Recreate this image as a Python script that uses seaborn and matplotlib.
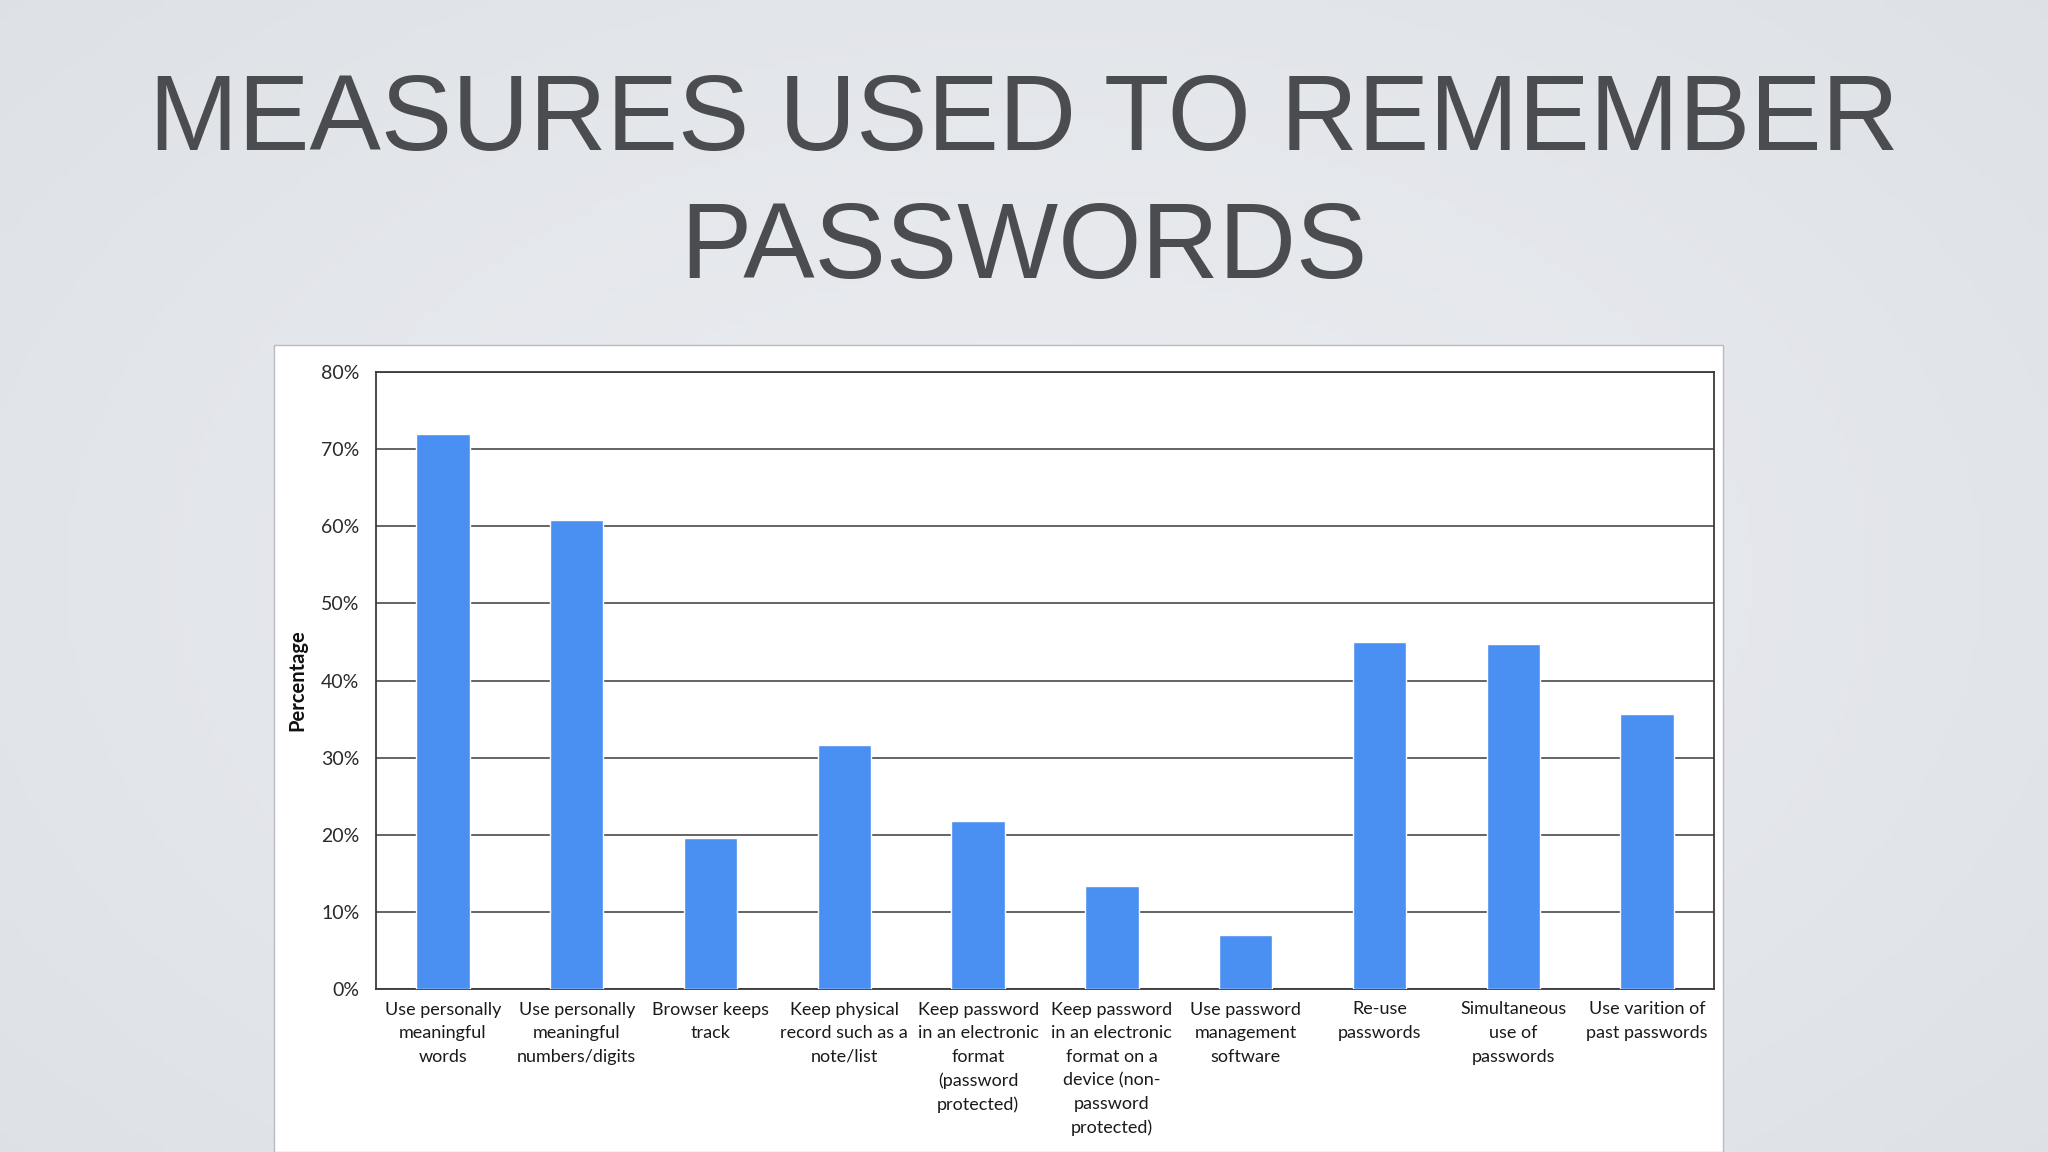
import numpy as np
import pandas as pd
import matplotlib
matplotlib.use("Agg")
import matplotlib.pyplot as plt
from matplotlib.patches import Rectangle
from matplotlib.ticker import FuncFormatter
import seaborn as sns

# ---- data ----
categories = [
    "Use personally\nmeaningful\nwords",
    "Use personally\nmeaningful\nnumbers/digits",
    "Browser keeps\ntrack",
    "Keep physical\nrecord such as a\nnote/list",
    "Keep password\nin an electronic\nformat\n(password\nprotected)",
    "Keep password\nin an electronic\nformat on a\ndevice (non-\npassword\nprotected)",
    "Use password\nmanagement\nsoftware",
    "Re-use\npasswords",
    "Simultaneous\nuse of\npasswords",
    "Use varition of\npast passwords",
]
values = [71.9, 60.8, 19.6, 31.7, 21.8, 13.4, 7.0, 45.0, 44.7, 35.6]
y_ticks = [0, 10, 20, 30, 40, 50, 60, 70, 80]
title_lines = ["MEASURES USED TO REMEMBER", "PASSWORDS"]
y_label = "Percentage"

df = pd.DataFrame({"category": categories, "value": values})

sns.set_theme(style="white")
plt.rcParams["font.family"] = ["Liberation Sans", "DejaVu Sans"]

W, H = 2048, 1152
fig = plt.figure(figsize=(W / 100, H / 100), dpi=100)

# background gradient
bg = fig.add_axes([0, 0, 1, 1], zorder=-10)
xx, yy = np.meshgrid(np.linspace(-1, 1, 300), np.linspace(-1, 1, 170))
r = np.sqrt((xx * 0.9) ** 2 + (yy * 0.8) ** 2)
c_center = np.array([0.925, 0.93, 0.945])
c_edge = np.array([0.87, 0.885, 0.905])
t = np.clip(r / 1.2, 0, 1)[..., None]
img = c_center * (1 - t) + c_edge * t
bg.imshow(img, aspect="auto", extent=[0, 1, 0, 1], origin="lower")
bg.set_axis_off()

# white chart panel
px0, py_top, px1 = 274, 345, 1723
fig.patches.append(Rectangle((px0 / W, 0), (px1 - px0) / W, 1 - py_top / H,
                             transform=fig.transFigure, facecolor="white",
                             edgecolor="#b8bcc2", linewidth=1.0, zorder=0))

# title
title_color = "#4b4c4f"
fig.text(0.5, 1 - 150 / H, title_lines[0], ha="center", va="baseline",
         fontsize=77, color=title_color, family=["Liberation Sans", "DejaVu Sans"])
fig.text(0.5, 1 - 278 / H, title_lines[1], ha="center", va="baseline",
         fontsize=77, color=title_color, family=["Liberation Sans", "DejaVu Sans"])

# chart axes
ax_l, ax_r, ax_t, ax_b = 376, 1714, 372, 989
ax = fig.add_axes([ax_l / W, 1 - ax_b / H, (ax_r - ax_l) / W, (ax_b - ax_t) / H], zorder=2)
ax.set_facecolor("white")

sns.barplot(data=df, x="category", y="value", color="#4a8ff2", width=0.4,
            saturation=1, ax=ax, zorder=3)

ax.set_ylim(0, 80)
ax.set_xlim(-0.5, len(categories) - 0.5)
ax.set_yticks(y_ticks)
ax.yaxis.set_major_formatter(FuncFormatter(lambda v, p: f"{int(v)}%"))
ax.grid(axis="y", color="#3a3a3a", linewidth=1.1, zorder=0)
ax.set_axisbelow(True)
for s in ax.spines.values():
    s.set_visible(True)
    s.set_color("#3a3a3a")
    s.set_linewidth(1.3)

lato = ["Lato", "DejaVu Sans"]
ax.tick_params(axis="both", length=0)
ax.tick_params(axis="y", pad=12, labelsize=14, labelcolor="#2a2a2a")
ax.tick_params(axis="x", pad=9, labelsize=13, labelcolor="#1a1a1a")
for lab in ax.get_xticklabels():
    lab.set_family(lato)
    lab.set_linespacing(1.58)
for lab in ax.get_yticklabels():
    lab.set_family(lato)

ax.set_xlabel("")
ax.set_ylabel(y_label, fontsize=14.5, fontweight="bold", color="#111111",
              family=lato, labelpad=10)

fig.savefig("out.png", dpi=100)
